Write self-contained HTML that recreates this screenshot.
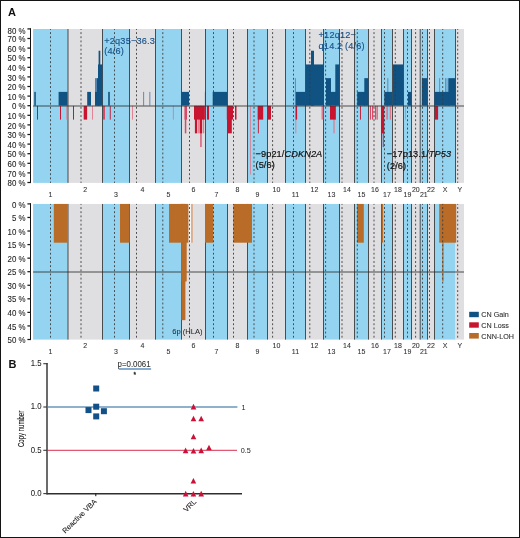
<!DOCTYPE html>
<html><head><meta charset="utf-8"><style>
html,body{margin:0;padding:0;background:#fff;}
#wrap{position:relative;width:520px;height:538px;overflow:hidden;background:#fff;box-sizing:border-box;border:1px solid #141414;}
svg{position:absolute;left:-1px;top:-1px;will-change:transform;}
text{font-family:"Liberation Sans",sans-serif;}
</style></head><body><div id="wrap">
<svg width="520" height="538" viewBox="0 0 520 538">
<rect x="33.10" y="29.00" width="34.90" height="153.90" fill="#94d4f0"/>
<rect x="68.00" y="29.00" width="34.50" height="153.90" fill="#dfdfe1"/>
<rect x="102.50" y="29.00" width="27.00" height="153.90" fill="#94d4f0"/>
<rect x="129.50" y="29.00" width="26.00" height="153.90" fill="#dfdfe1"/>
<rect x="155.50" y="29.00" width="26.00" height="153.90" fill="#94d4f0"/>
<rect x="181.50" y="29.00" width="24.00" height="153.90" fill="#dfdfe1"/>
<rect x="205.50" y="29.00" width="22.00" height="153.90" fill="#94d4f0"/>
<rect x="227.50" y="29.00" width="20.00" height="153.90" fill="#dfdfe1"/>
<rect x="247.50" y="29.00" width="20.00" height="153.90" fill="#94d4f0"/>
<rect x="267.50" y="29.00" width="18.00" height="153.90" fill="#dfdfe1"/>
<rect x="285.50" y="29.00" width="20.00" height="153.90" fill="#94d4f0"/>
<rect x="305.50" y="29.00" width="18.00" height="153.90" fill="#dfdfe1"/>
<rect x="323.50" y="29.00" width="16.00" height="153.90" fill="#94d4f0"/>
<rect x="339.50" y="29.00" width="15.00" height="153.90" fill="#dfdfe1"/>
<rect x="354.50" y="29.00" width="14.00" height="153.90" fill="#94d4f0"/>
<rect x="368.50" y="29.00" width="13.00" height="153.90" fill="#dfdfe1"/>
<rect x="381.50" y="29.00" width="11.00" height="153.90" fill="#94d4f0"/>
<rect x="392.50" y="29.00" width="11.00" height="153.90" fill="#dfdfe1"/>
<rect x="403.50" y="29.00" width="8.00" height="153.90" fill="#94d4f0"/>
<rect x="411.50" y="29.00" width="8.70" height="153.90" fill="#dfdfe1"/>
<rect x="420.20" y="29.00" width="7.30" height="153.90" fill="#94d4f0"/>
<rect x="427.50" y="29.00" width="7.00" height="153.90" fill="#dfdfe1"/>
<rect x="434.50" y="29.00" width="21.00" height="153.90" fill="#94d4f0"/>
<rect x="455.50" y="29.00" width="8.50" height="153.90" fill="#dfdfe1"/>
<text x="104.30" y="43.70" font-size="9.2" text-anchor="start" fill="#1a5288" stroke-width="0.14" letter-spacing="0.16" stroke="#1a5288">+2q35&#8722;36.3</text>
<text x="104.30" y="54.10" font-size="9.2" text-anchor="start" fill="#1a5288" stroke-width="0.14" letter-spacing="0.16" stroke="#1a5288">(4/6)</text>
<text x="318.60" y="38.40" font-size="9.2" text-anchor="start" fill="#1a5288" stroke-width="0.14" letter-spacing="0.16" stroke="#1a5288">+12q12&#8722;</text>
<text x="318.60" y="48.90" font-size="9.2" text-anchor="start" fill="#1a5288" stroke-width="0.14" letter-spacing="0.16" stroke="#1a5288">q14.2 (4/6)</text>
<line x1="68.00" y1="29.00" x2="68.00" y2="182.90" stroke="#333" stroke-width="0.85"/>
<line x1="102.50" y1="29.00" x2="102.50" y2="182.90" stroke="#333" stroke-width="0.85"/>
<line x1="129.50" y1="29.00" x2="129.50" y2="182.90" stroke="#333" stroke-width="0.85"/>
<line x1="155.50" y1="29.00" x2="155.50" y2="182.90" stroke="#333" stroke-width="0.85"/>
<line x1="181.50" y1="29.00" x2="181.50" y2="182.90" stroke="#333" stroke-width="0.85"/>
<line x1="205.50" y1="29.00" x2="205.50" y2="182.90" stroke="#333" stroke-width="0.85"/>
<line x1="227.50" y1="29.00" x2="227.50" y2="182.90" stroke="#333" stroke-width="0.85"/>
<line x1="247.50" y1="29.00" x2="247.50" y2="182.90" stroke="#333" stroke-width="0.85"/>
<line x1="267.50" y1="29.00" x2="267.50" y2="182.90" stroke="#333" stroke-width="0.85"/>
<line x1="285.50" y1="29.00" x2="285.50" y2="182.90" stroke="#333" stroke-width="0.85"/>
<line x1="305.50" y1="29.00" x2="305.50" y2="182.90" stroke="#333" stroke-width="0.85"/>
<line x1="323.50" y1="29.00" x2="323.50" y2="182.90" stroke="#333" stroke-width="0.85"/>
<line x1="339.50" y1="29.00" x2="339.50" y2="182.90" stroke="#333" stroke-width="0.85"/>
<line x1="354.50" y1="29.00" x2="354.50" y2="182.90" stroke="#333" stroke-width="0.85"/>
<line x1="368.50" y1="29.00" x2="368.50" y2="182.90" stroke="#333" stroke-width="0.85"/>
<line x1="381.50" y1="29.00" x2="381.50" y2="182.90" stroke="#333" stroke-width="0.85"/>
<line x1="392.50" y1="29.00" x2="392.50" y2="182.90" stroke="#333" stroke-width="0.85"/>
<line x1="403.50" y1="29.00" x2="403.50" y2="182.90" stroke="#333" stroke-width="0.85"/>
<line x1="411.50" y1="29.00" x2="411.50" y2="182.90" stroke="#333" stroke-width="0.85"/>
<line x1="420.20" y1="29.00" x2="420.20" y2="182.90" stroke="#333" stroke-width="0.85"/>
<line x1="427.50" y1="29.00" x2="427.50" y2="182.90" stroke="#333" stroke-width="0.85"/>
<line x1="434.50" y1="29.00" x2="434.50" y2="182.90" stroke="#333" stroke-width="0.85"/>
<line x1="455.50" y1="29.00" x2="455.50" y2="182.90" stroke="#333" stroke-width="0.85"/>
<rect x="95.00" y="78.16" width="1.90" height="27.44" fill="#4f83b3"/>
<rect x="143.20" y="91.88" width="0.90" height="13.72" fill="#4f83b3"/>
<rect x="149.40" y="91.88" width="0.90" height="13.72" fill="#4f83b3"/>
<rect x="294.90" y="78.16" width="0.90" height="27.44" fill="#4f83b3"/>
<rect x="387.40" y="78.16" width="0.90" height="27.44" fill="#4f83b3"/>
<rect x="439.30" y="78.16" width="0.80" height="27.44" fill="#4f83b3"/>
<rect x="445.00" y="78.16" width="0.80" height="27.44" fill="#4f83b3"/>
<rect x="446.60" y="78.16" width="0.80" height="27.44" fill="#4f83b3"/>
<rect x="34.30" y="91.88" width="1.50" height="13.72" fill="#105282"/>
<rect x="58.60" y="91.88" width="8.90" height="13.72" fill="#105282"/>
<rect x="87.20" y="91.88" width="3.80" height="13.72" fill="#105282"/>
<rect x="95.00" y="91.88" width="2.90" height="13.72" fill="#105282"/>
<rect x="96.90" y="78.16" width="2.10" height="27.44" fill="#105282"/>
<rect x="98.00" y="64.44" width="4.30" height="41.16" fill="#105282"/>
<rect x="98.60" y="50.72" width="1.70" height="54.88" fill="#105282"/>
<rect x="108.20" y="91.88" width="1.60" height="13.72" fill="#105282"/>
<rect x="181.30" y="91.88" width="7.70" height="13.72" fill="#105282"/>
<rect x="204.90" y="91.88" width="0.90" height="13.72" fill="#105282"/>
<rect x="212.70" y="91.88" width="14.30" height="13.72" fill="#105282"/>
<rect x="295.80" y="91.88" width="9.80" height="13.72" fill="#105282"/>
<rect x="305.80" y="64.44" width="18.00" height="41.16" fill="#105282"/>
<rect x="311.00" y="50.72" width="3.00" height="54.88" fill="#105282"/>
<rect x="326.00" y="78.16" width="5.00" height="27.44" fill="#105282"/>
<rect x="330.00" y="91.88" width="6.30" height="13.72" fill="#105282"/>
<rect x="335.30" y="64.44" width="4.20" height="41.16" fill="#105282"/>
<rect x="357.20" y="91.88" width="8.10" height="13.72" fill="#105282"/>
<rect x="364.30" y="78.16" width="4.10" height="27.44" fill="#105282"/>
<rect x="384.30" y="91.88" width="8.20" height="13.72" fill="#105282"/>
<rect x="393.00" y="64.44" width="10.20" height="41.16" fill="#105282"/>
<rect x="408.00" y="91.88" width="3.50" height="13.72" fill="#105282"/>
<rect x="421.90" y="78.16" width="5.20" height="27.44" fill="#105282"/>
<rect x="434.50" y="91.88" width="14.80" height="13.72" fill="#105282"/>
<rect x="448.30" y="78.16" width="7.30" height="27.44" fill="#105282"/>
<rect x="103.00" y="105.90" width="2.00" height="13.72" fill="#d84a68"/>
<rect x="184.50" y="105.90" width="2.50" height="13.72" fill="#d84a68"/>
<rect x="184.80" y="105.90" width="1.50" height="27.44" fill="#d84a68"/>
<rect x="200.30" y="105.90" width="1.30" height="41.16" fill="#d84a68"/>
<rect x="369.90" y="105.90" width="1.10" height="13.72" fill="#d84a68"/>
<rect x="372.00" y="105.90" width="1.20" height="13.72" fill="#d84a68"/>
<rect x="374.90" y="105.90" width="1.20" height="13.72" fill="#d84a68"/>
<rect x="376.60" y="105.90" width="1.10" height="13.72" fill="#d84a68"/>
<rect x="66.40" y="105.90" width="0.90" height="13.72" fill="#e07a8e"/>
<rect x="92.00" y="105.90" width="0.90" height="13.72" fill="#e07a8e"/>
<rect x="132.00" y="105.90" width="0.90" height="13.72" fill="#e07a8e"/>
<rect x="172.90" y="105.90" width="0.90" height="13.72" fill="#e07a8e"/>
<rect x="198.10" y="105.90" width="1.40" height="27.44" fill="#e07a8e"/>
<rect x="202.80" y="105.90" width="1.40" height="27.44" fill="#e07a8e"/>
<rect x="250.20" y="105.90" width="0.80" height="68.60" fill="#e07a8e"/>
<rect x="295.40" y="105.90" width="0.90" height="27.44" fill="#e07a8e"/>
<rect x="321.50" y="105.90" width="1.80" height="13.72" fill="#e07a8e"/>
<rect x="333.40" y="105.90" width="1.20" height="27.44" fill="#e07a8e"/>
<rect x="334.80" y="105.90" width="0.80" height="13.72" fill="#e07a8e"/>
<rect x="386.30" y="105.90" width="1.70" height="13.72" fill="#e07a8e"/>
<rect x="389.70" y="105.90" width="1.30" height="13.72" fill="#e07a8e"/>
<rect x="405.20" y="105.90" width="0.80" height="13.72" fill="#e07a8e"/>
<rect x="37.00" y="105.90" width="1.00" height="13.72" fill="#c8142f"/>
<rect x="60.00" y="105.90" width="1.00" height="13.72" fill="#c8142f"/>
<rect x="73.00" y="105.90" width="1.00" height="13.72" fill="#c8142f"/>
<rect x="83.70" y="105.90" width="3.40" height="13.72" fill="#c8142f"/>
<rect x="109.80" y="105.90" width="0.90" height="13.72" fill="#c8142f"/>
<rect x="155.00" y="105.90" width="1.00" height="13.72" fill="#c8142f"/>
<rect x="194.00" y="105.90" width="10.90" height="13.72" fill="#c8142f"/>
<rect x="194.90" y="105.90" width="2.30" height="27.44" fill="#c8142f"/>
<rect x="199.80" y="105.90" width="2.30" height="27.44" fill="#c8142f"/>
<rect x="207.00" y="105.90" width="2.00" height="13.72" fill="#c8142f"/>
<rect x="226.80" y="105.90" width="6.20" height="13.72" fill="#c8142f"/>
<rect x="227.30" y="105.90" width="4.50" height="27.44" fill="#c8142f"/>
<rect x="235.00" y="105.90" width="1.50" height="13.72" fill="#c8142f"/>
<rect x="257.70" y="105.90" width="5.50" height="13.72" fill="#c8142f"/>
<rect x="257.90" y="105.90" width="0.90" height="27.44" fill="#c8142f"/>
<rect x="267.30" y="105.90" width="3.70" height="13.72" fill="#c8142f"/>
<rect x="295.60" y="105.90" width="1.50" height="13.72" fill="#c8142f"/>
<rect x="330.00" y="105.90" width="5.80" height="13.72" fill="#c8142f"/>
<rect x="360.00" y="105.90" width="0.90" height="13.72" fill="#c8142f"/>
<rect x="381.50" y="105.90" width="2.70" height="27.44" fill="#c8142f"/>
<rect x="382.80" y="105.90" width="0.90" height="41.16" fill="#c8142f"/>
<rect x="411.00" y="105.90" width="0.90" height="13.72" fill="#c8142f"/>
<rect x="434.90" y="105.90" width="3.20" height="13.72" fill="#c8142f"/>
<line x1="50.50" y1="29.00" x2="50.50" y2="182.90" stroke="#3c3c3c" stroke-width="0.9" stroke-dasharray="1.9 2.25" stroke-dashoffset="1.0"/>
<line x1="81.00" y1="29.00" x2="81.00" y2="182.90" stroke="#3c3c3c" stroke-width="0.9" stroke-dasharray="1.9 2.25" stroke-dashoffset="1.0"/>
<line x1="114.50" y1="29.00" x2="114.50" y2="182.90" stroke="#3c3c3c" stroke-width="0.9" stroke-dasharray="1.9 2.25" stroke-dashoffset="1.0"/>
<line x1="136.50" y1="29.00" x2="136.50" y2="182.90" stroke="#3c3c3c" stroke-width="0.9" stroke-dasharray="1.9 2.25" stroke-dashoffset="1.0"/>
<line x1="162.80" y1="29.00" x2="162.80" y2="182.90" stroke="#3c3c3c" stroke-width="0.9" stroke-dasharray="1.9 2.25" stroke-dashoffset="1.0"/>
<line x1="189.50" y1="29.00" x2="189.50" y2="182.90" stroke="#3c3c3c" stroke-width="0.9" stroke-dasharray="1.9 2.25" stroke-dashoffset="1.0"/>
<line x1="213.50" y1="29.00" x2="213.50" y2="182.90" stroke="#3c3c3c" stroke-width="0.9" stroke-dasharray="1.9 2.25" stroke-dashoffset="1.0"/>
<line x1="233.50" y1="29.00" x2="233.50" y2="182.90" stroke="#3c3c3c" stroke-width="0.9" stroke-dasharray="1.9 2.25" stroke-dashoffset="1.0"/>
<line x1="254.00" y1="29.00" x2="254.00" y2="182.90" stroke="#3c3c3c" stroke-width="0.9" stroke-dasharray="1.9 2.25" stroke-dashoffset="1.0"/>
<line x1="272.60" y1="29.00" x2="272.60" y2="182.90" stroke="#3c3c3c" stroke-width="0.9" stroke-dasharray="1.9 2.25" stroke-dashoffset="1.0"/>
<line x1="293.50" y1="29.00" x2="293.50" y2="182.90" stroke="#3c3c3c" stroke-width="0.9" stroke-dasharray="1.9 2.25" stroke-dashoffset="1.0"/>
<line x1="309.80" y1="29.00" x2="309.80" y2="182.90" stroke="#3c3c3c" stroke-width="0.9" stroke-dasharray="1.9 2.25" stroke-dashoffset="1.0"/>
<line x1="325.60" y1="29.00" x2="325.60" y2="182.90" stroke="#3c3c3c" stroke-width="0.9" stroke-dasharray="1.9 2.25" stroke-dashoffset="1.0"/>
<line x1="342.00" y1="29.00" x2="342.00" y2="182.90" stroke="#3c3c3c" stroke-width="0.9" stroke-dasharray="1.9 2.25" stroke-dashoffset="1.0"/>
<line x1="357.30" y1="29.00" x2="357.30" y2="182.90" stroke="#3c3c3c" stroke-width="0.9" stroke-dasharray="1.9 2.25" stroke-dashoffset="1.0"/>
<line x1="374.00" y1="29.00" x2="374.00" y2="182.90" stroke="#3c3c3c" stroke-width="0.9" stroke-dasharray="1.9 2.25" stroke-dashoffset="1.0"/>
<line x1="384.50" y1="29.00" x2="384.50" y2="182.90" stroke="#3c3c3c" stroke-width="0.9" stroke-dasharray="1.9 2.25" stroke-dashoffset="1.0"/>
<line x1="395.30" y1="29.00" x2="395.30" y2="182.90" stroke="#3c3c3c" stroke-width="0.9" stroke-dasharray="1.9 2.25" stroke-dashoffset="1.0"/>
<line x1="407.50" y1="29.00" x2="407.50" y2="182.90" stroke="#3c3c3c" stroke-width="0.9" stroke-dasharray="1.9 2.25" stroke-dashoffset="1.0"/>
<line x1="415.60" y1="29.00" x2="415.60" y2="182.90" stroke="#3c3c3c" stroke-width="0.9" stroke-dasharray="1.9 2.25" stroke-dashoffset="1.0"/>
<line x1="422.50" y1="29.00" x2="422.50" y2="182.90" stroke="#3c3c3c" stroke-width="0.9" stroke-dasharray="1.9 2.25" stroke-dashoffset="1.0"/>
<line x1="429.50" y1="29.00" x2="429.50" y2="182.90" stroke="#3c3c3c" stroke-width="0.9" stroke-dasharray="1.9 2.25" stroke-dashoffset="1.0"/>
<line x1="442.70" y1="29.00" x2="442.70" y2="182.90" stroke="#3c3c3c" stroke-width="0.9" stroke-dasharray="1.9 2.25" stroke-dashoffset="1.0"/>
<line x1="457.70" y1="29.00" x2="457.70" y2="182.90" stroke="#3c3c3c" stroke-width="0.9" stroke-dasharray="1.9 2.25" stroke-dashoffset="1.0"/>
<text x="255.50" y="157.40" font-size="9.2" text-anchor="start" fill="#111" stroke-width="0.2" letter-spacing="0.1" stroke="#111">&#8722;9p21/<tspan font-style="italic">CDKN2A</tspan></text>
<text x="255.50" y="167.80" font-size="9.2" text-anchor="start" fill="#111" stroke-width="0.2" letter-spacing="0.1" stroke="#111">(5/6)</text>
<text x="386.80" y="157.20" font-size="9.2" text-anchor="start" fill="#111" stroke-width="0.2" letter-spacing="0.1" stroke="#111">&#8722;17p13.1/<tspan font-style="italic">TP53</tspan></text>
<text x="386.80" y="168.60" font-size="9.2" text-anchor="start" fill="#111" stroke-width="0.2" letter-spacing="0.1" stroke="#111">(2/6)</text>
<line x1="33.10" y1="106.00" x2="464.00" y2="106.00" stroke="#333" stroke-width="1.1" stroke-opacity="0.85"/>
<line x1="30.50" y1="28.40" x2="30.50" y2="183.00" stroke="#111" stroke-width="1"/>
<line x1="27.40" y1="28.90" x2="31.00" y2="28.90" stroke="#1a1a1a" stroke-width="1.25"/>
<text x="0" y="0" font-size="7.9" text-anchor="end" fill="#222" transform="translate(25.60 33.50) scale(1.0 1.1)" stroke="#222" stroke-width="0.08">80 %</text>
<line x1="27.40" y1="38.50" x2="31.00" y2="38.50" stroke="#1a1a1a" stroke-width="1.25"/>
<text x="0" y="0" font-size="7.9" text-anchor="end" fill="#222" transform="translate(25.60 42.10) scale(1.0 1.1)" stroke="#222" stroke-width="0.08">70 %</text>
<line x1="27.40" y1="48.10" x2="31.00" y2="48.10" stroke="#1a1a1a" stroke-width="1.25"/>
<text x="0" y="0" font-size="7.9" text-anchor="end" fill="#222" transform="translate(25.60 51.70) scale(1.0 1.1)" stroke="#222" stroke-width="0.08">60 %</text>
<line x1="27.40" y1="57.70" x2="31.00" y2="57.70" stroke="#1a1a1a" stroke-width="1.25"/>
<text x="0" y="0" font-size="7.9" text-anchor="end" fill="#222" transform="translate(25.60 61.30) scale(1.0 1.1)" stroke="#222" stroke-width="0.08">50 %</text>
<line x1="27.40" y1="67.30" x2="31.00" y2="67.30" stroke="#1a1a1a" stroke-width="1.25"/>
<text x="0" y="0" font-size="7.9" text-anchor="end" fill="#222" transform="translate(25.60 70.90) scale(1.0 1.1)" stroke="#222" stroke-width="0.08">40 %</text>
<line x1="27.40" y1="76.90" x2="31.00" y2="76.90" stroke="#1a1a1a" stroke-width="1.25"/>
<text x="0" y="0" font-size="7.9" text-anchor="end" fill="#222" transform="translate(25.60 80.50) scale(1.0 1.1)" stroke="#222" stroke-width="0.08">30 %</text>
<line x1="27.40" y1="86.50" x2="31.00" y2="86.50" stroke="#1a1a1a" stroke-width="1.25"/>
<text x="0" y="0" font-size="7.9" text-anchor="end" fill="#222" transform="translate(25.60 90.10) scale(1.0 1.1)" stroke="#222" stroke-width="0.08">20 %</text>
<line x1="27.40" y1="96.10" x2="31.00" y2="96.10" stroke="#1a1a1a" stroke-width="1.25"/>
<text x="0" y="0" font-size="7.9" text-anchor="end" fill="#222" transform="translate(25.60 99.70) scale(1.0 1.1)" stroke="#222" stroke-width="0.08">10 %</text>
<line x1="27.40" y1="105.70" x2="31.00" y2="105.70" stroke="#1a1a1a" stroke-width="1.25"/>
<text x="0" y="0" font-size="7.9" text-anchor="end" fill="#222" transform="translate(25.60 109.30) scale(1.0 1.1)" stroke="#222" stroke-width="0.08">0 %</text>
<line x1="27.40" y1="115.30" x2="31.00" y2="115.30" stroke="#1a1a1a" stroke-width="1.25"/>
<text x="0" y="0" font-size="7.9" text-anchor="end" fill="#222" transform="translate(25.60 118.90) scale(1.0 1.1)" stroke="#222" stroke-width="0.08">10 %</text>
<line x1="27.40" y1="124.90" x2="31.00" y2="124.90" stroke="#1a1a1a" stroke-width="1.25"/>
<text x="0" y="0" font-size="7.9" text-anchor="end" fill="#222" transform="translate(25.60 128.50) scale(1.0 1.1)" stroke="#222" stroke-width="0.08">20 %</text>
<line x1="27.40" y1="134.50" x2="31.00" y2="134.50" stroke="#1a1a1a" stroke-width="1.25"/>
<text x="0" y="0" font-size="7.9" text-anchor="end" fill="#222" transform="translate(25.60 138.10) scale(1.0 1.1)" stroke="#222" stroke-width="0.08">30 %</text>
<line x1="27.40" y1="144.10" x2="31.00" y2="144.10" stroke="#1a1a1a" stroke-width="1.25"/>
<text x="0" y="0" font-size="7.9" text-anchor="end" fill="#222" transform="translate(25.60 147.70) scale(1.0 1.1)" stroke="#222" stroke-width="0.08">40 %</text>
<line x1="27.40" y1="153.70" x2="31.00" y2="153.70" stroke="#1a1a1a" stroke-width="1.25"/>
<text x="0" y="0" font-size="7.9" text-anchor="end" fill="#222" transform="translate(25.60 157.30) scale(1.0 1.1)" stroke="#222" stroke-width="0.08">50 %</text>
<line x1="27.40" y1="163.30" x2="31.00" y2="163.30" stroke="#1a1a1a" stroke-width="1.25"/>
<text x="0" y="0" font-size="7.9" text-anchor="end" fill="#222" transform="translate(25.60 166.90) scale(1.0 1.1)" stroke="#222" stroke-width="0.08">60 %</text>
<line x1="27.40" y1="172.90" x2="31.00" y2="172.90" stroke="#1a1a1a" stroke-width="1.25"/>
<text x="0" y="0" font-size="7.9" text-anchor="end" fill="#222" transform="translate(25.60 176.50) scale(1.0 1.1)" stroke="#222" stroke-width="0.08">70 %</text>
<line x1="27.40" y1="182.50" x2="31.00" y2="182.50" stroke="#1a1a1a" stroke-width="1.25"/>
<text x="0" y="0" font-size="7.9" text-anchor="end" fill="#222" transform="translate(25.60 186.10) scale(1.0 1.1)" stroke="#222" stroke-width="0.08">80 %</text>
<text x="0" y="0" font-size="7" text-anchor="middle" fill="#333" transform="translate(50.55 197.20) scale(1.0 1.05)" stroke="#333" stroke-width="0.08">1</text>
<text x="0" y="0" font-size="7" text-anchor="middle" fill="#333" transform="translate(85.25 191.80) scale(1.0 1.05)" stroke="#333" stroke-width="0.08">2</text>
<text x="0" y="0" font-size="7" text-anchor="middle" fill="#333" transform="translate(116.00 197.20) scale(1.0 1.05)" stroke="#333" stroke-width="0.08">3</text>
<text x="0" y="0" font-size="7" text-anchor="middle" fill="#333" transform="translate(142.50 191.80) scale(1.0 1.05)" stroke="#333" stroke-width="0.08">4</text>
<text x="0" y="0" font-size="7" text-anchor="middle" fill="#333" transform="translate(168.50 197.20) scale(1.0 1.05)" stroke="#333" stroke-width="0.08">5</text>
<text x="0" y="0" font-size="7" text-anchor="middle" fill="#333" transform="translate(193.50 191.80) scale(1.0 1.05)" stroke="#333" stroke-width="0.08">6</text>
<text x="0" y="0" font-size="7" text-anchor="middle" fill="#333" transform="translate(216.50 197.20) scale(1.0 1.05)" stroke="#333" stroke-width="0.08">7</text>
<text x="0" y="0" font-size="7" text-anchor="middle" fill="#333" transform="translate(237.50 191.80) scale(1.0 1.05)" stroke="#333" stroke-width="0.08">8</text>
<text x="0" y="0" font-size="7" text-anchor="middle" fill="#333" transform="translate(257.50 197.20) scale(1.0 1.05)" stroke="#333" stroke-width="0.08">9</text>
<text x="0" y="0" font-size="7" text-anchor="middle" fill="#333" transform="translate(276.50 191.80) scale(1.0 1.05)" stroke="#333" stroke-width="0.08">10</text>
<text x="0" y="0" font-size="7" text-anchor="middle" fill="#333" transform="translate(295.50 197.20) scale(1.0 1.05)" stroke="#333" stroke-width="0.08">11</text>
<text x="0" y="0" font-size="7" text-anchor="middle" fill="#333" transform="translate(314.50 191.80) scale(1.0 1.05)" stroke="#333" stroke-width="0.08">12</text>
<text x="0" y="0" font-size="7" text-anchor="middle" fill="#333" transform="translate(331.50 197.20) scale(1.0 1.05)" stroke="#333" stroke-width="0.08">13</text>
<text x="0" y="0" font-size="7" text-anchor="middle" fill="#333" transform="translate(347.00 191.80) scale(1.0 1.05)" stroke="#333" stroke-width="0.08">14</text>
<text x="0" y="0" font-size="7" text-anchor="middle" fill="#333" transform="translate(361.50 197.20) scale(1.0 1.05)" stroke="#333" stroke-width="0.08">15</text>
<text x="0" y="0" font-size="7" text-anchor="middle" fill="#333" transform="translate(375.00 191.80) scale(1.0 1.05)" stroke="#333" stroke-width="0.08">16</text>
<text x="0" y="0" font-size="7" text-anchor="middle" fill="#333" transform="translate(387.00 197.20) scale(1.0 1.05)" stroke="#333" stroke-width="0.08">17</text>
<text x="0" y="0" font-size="7" text-anchor="middle" fill="#333" transform="translate(398.00 191.80) scale(1.0 1.05)" stroke="#333" stroke-width="0.08">18</text>
<text x="0" y="0" font-size="7" text-anchor="middle" fill="#333" transform="translate(407.50 197.20) scale(1.0 1.05)" stroke="#333" stroke-width="0.08">19</text>
<text x="0" y="0" font-size="7" text-anchor="middle" fill="#333" transform="translate(415.85 191.80) scale(1.0 1.05)" stroke="#333" stroke-width="0.08">20</text>
<text x="0" y="0" font-size="7" text-anchor="middle" fill="#333" transform="translate(423.85 197.20) scale(1.0 1.05)" stroke="#333" stroke-width="0.08">21</text>
<text x="0" y="0" font-size="7" text-anchor="middle" fill="#333" transform="translate(431.00 191.80) scale(1.0 1.05)" stroke="#333" stroke-width="0.08">22</text>
<text x="0" y="0" font-size="7" text-anchor="middle" fill="#333" transform="translate(445.00 191.80) scale(1.0 1.05)" stroke="#333" stroke-width="0.08">X</text>
<text x="0" y="0" font-size="7" text-anchor="middle" fill="#333" transform="translate(459.75 191.80) scale(1.0 1.05)" stroke="#333" stroke-width="0.08">Y</text>
<rect x="33.10" y="203.95" width="34.90" height="135.65" fill="#94d4f0"/>
<rect x="68.00" y="203.95" width="34.50" height="135.65" fill="#dfdfe1"/>
<rect x="102.50" y="203.95" width="27.00" height="135.65" fill="#94d4f0"/>
<rect x="129.50" y="203.95" width="26.00" height="135.65" fill="#dfdfe1"/>
<rect x="155.50" y="203.95" width="26.00" height="135.65" fill="#94d4f0"/>
<rect x="181.50" y="203.95" width="24.00" height="135.65" fill="#dfdfe1"/>
<rect x="205.50" y="203.95" width="22.00" height="135.65" fill="#94d4f0"/>
<rect x="227.50" y="203.95" width="20.00" height="135.65" fill="#dfdfe1"/>
<rect x="247.50" y="203.95" width="20.00" height="135.65" fill="#94d4f0"/>
<rect x="267.50" y="203.95" width="18.00" height="135.65" fill="#dfdfe1"/>
<rect x="285.50" y="203.95" width="20.00" height="135.65" fill="#94d4f0"/>
<rect x="305.50" y="203.95" width="18.00" height="135.65" fill="#dfdfe1"/>
<rect x="323.50" y="203.95" width="16.00" height="135.65" fill="#94d4f0"/>
<rect x="339.50" y="203.95" width="15.00" height="135.65" fill="#dfdfe1"/>
<rect x="354.50" y="203.95" width="14.00" height="135.65" fill="#94d4f0"/>
<rect x="368.50" y="203.95" width="13.00" height="135.65" fill="#dfdfe1"/>
<rect x="381.50" y="203.95" width="11.00" height="135.65" fill="#94d4f0"/>
<rect x="392.50" y="203.95" width="11.00" height="135.65" fill="#dfdfe1"/>
<rect x="403.50" y="203.95" width="8.00" height="135.65" fill="#94d4f0"/>
<rect x="411.50" y="203.95" width="8.70" height="135.65" fill="#dfdfe1"/>
<rect x="420.20" y="203.95" width="7.30" height="135.65" fill="#94d4f0"/>
<rect x="427.50" y="203.95" width="7.00" height="135.65" fill="#dfdfe1"/>
<rect x="434.50" y="203.95" width="21.00" height="135.65" fill="#94d4f0"/>
<rect x="455.50" y="203.95" width="8.50" height="135.65" fill="#dfdfe1"/>
<line x1="68.00" y1="203.95" x2="68.00" y2="339.60" stroke="#333" stroke-width="0.85"/>
<line x1="102.50" y1="203.95" x2="102.50" y2="339.60" stroke="#333" stroke-width="0.85"/>
<line x1="129.50" y1="203.95" x2="129.50" y2="339.60" stroke="#333" stroke-width="0.85"/>
<line x1="155.50" y1="203.95" x2="155.50" y2="339.60" stroke="#333" stroke-width="0.85"/>
<line x1="181.50" y1="203.95" x2="181.50" y2="339.60" stroke="#333" stroke-width="0.85"/>
<line x1="205.50" y1="203.95" x2="205.50" y2="339.60" stroke="#333" stroke-width="0.85"/>
<line x1="227.50" y1="203.95" x2="227.50" y2="339.60" stroke="#333" stroke-width="0.85"/>
<line x1="247.50" y1="203.95" x2="247.50" y2="339.60" stroke="#333" stroke-width="0.85"/>
<line x1="267.50" y1="203.95" x2="267.50" y2="339.60" stroke="#333" stroke-width="0.85"/>
<line x1="285.50" y1="203.95" x2="285.50" y2="339.60" stroke="#333" stroke-width="0.85"/>
<line x1="305.50" y1="203.95" x2="305.50" y2="339.60" stroke="#333" stroke-width="0.85"/>
<line x1="323.50" y1="203.95" x2="323.50" y2="339.60" stroke="#333" stroke-width="0.85"/>
<line x1="339.50" y1="203.95" x2="339.50" y2="339.60" stroke="#333" stroke-width="0.85"/>
<line x1="354.50" y1="203.95" x2="354.50" y2="339.60" stroke="#333" stroke-width="0.85"/>
<line x1="368.50" y1="203.95" x2="368.50" y2="339.60" stroke="#333" stroke-width="0.85"/>
<line x1="381.50" y1="203.95" x2="381.50" y2="339.60" stroke="#333" stroke-width="0.85"/>
<line x1="392.50" y1="203.95" x2="392.50" y2="339.60" stroke="#333" stroke-width="0.85"/>
<line x1="403.50" y1="203.95" x2="403.50" y2="339.60" stroke="#333" stroke-width="0.85"/>
<line x1="411.50" y1="203.95" x2="411.50" y2="339.60" stroke="#333" stroke-width="0.85"/>
<line x1="420.20" y1="203.95" x2="420.20" y2="339.60" stroke="#333" stroke-width="0.85"/>
<line x1="427.50" y1="203.95" x2="427.50" y2="339.60" stroke="#333" stroke-width="0.85"/>
<line x1="434.50" y1="203.95" x2="434.50" y2="339.60" stroke="#333" stroke-width="0.85"/>
<line x1="33.10" y1="272.00" x2="464.00" y2="272.00" stroke="#2a2a2a" stroke-width="1.15" stroke-opacity="0.82"/>
<rect x="188.40" y="203.95" width="2.80" height="38.74" fill="#f4f4f4"/>
<rect x="53.80" y="203.95" width="13.70" height="38.74" fill="#b86c28"/>
<rect x="120.00" y="203.95" width="9.60" height="38.74" fill="#b86c28"/>
<rect x="169.00" y="203.95" width="19.40" height="38.74" fill="#b86c28"/>
<rect x="191.20" y="203.95" width="1.50" height="38.74" fill="#d9a27a"/>
<rect x="181.30" y="203.95" width="4.10" height="116.22" fill="#b86c28"/>
<rect x="181.30" y="203.95" width="5.40" height="77.48" fill="#b86c28"/>
<rect x="205.00" y="203.95" width="8.20" height="38.74" fill="#b86c28"/>
<rect x="233.30" y="203.95" width="18.70" height="38.74" fill="#b86c28"/>
<rect x="357.00" y="203.95" width="6.80" height="38.74" fill="#b86c28"/>
<rect x="381.60" y="203.95" width="1.50" height="38.74" fill="#b86c28"/>
<rect x="439.20" y="203.95" width="17.00" height="38.74" fill="#b86c28"/>
<rect x="442.30" y="203.95" width="1.20" height="77.48" fill="#b86c28"/>
<line x1="50.50" y1="203.95" x2="50.50" y2="339.60" stroke="#3c3c3c" stroke-width="0.9" stroke-dasharray="1.9 2.25" stroke-dashoffset="1.0"/>
<line x1="81.00" y1="203.95" x2="81.00" y2="339.60" stroke="#3c3c3c" stroke-width="0.9" stroke-dasharray="1.9 2.25" stroke-dashoffset="1.0"/>
<line x1="114.50" y1="203.95" x2="114.50" y2="339.60" stroke="#3c3c3c" stroke-width="0.9" stroke-dasharray="1.9 2.25" stroke-dashoffset="1.0"/>
<line x1="136.50" y1="203.95" x2="136.50" y2="339.60" stroke="#3c3c3c" stroke-width="0.9" stroke-dasharray="1.9 2.25" stroke-dashoffset="1.0"/>
<line x1="162.80" y1="203.95" x2="162.80" y2="339.60" stroke="#3c3c3c" stroke-width="0.9" stroke-dasharray="1.9 2.25" stroke-dashoffset="1.0"/>
<line x1="189.50" y1="203.95" x2="189.50" y2="339.60" stroke="#3c3c3c" stroke-width="0.9" stroke-dasharray="1.9 2.25" stroke-dashoffset="1.0"/>
<line x1="213.50" y1="203.95" x2="213.50" y2="339.60" stroke="#3c3c3c" stroke-width="0.9" stroke-dasharray="1.9 2.25" stroke-dashoffset="1.0"/>
<line x1="233.50" y1="203.95" x2="233.50" y2="339.60" stroke="#3c3c3c" stroke-width="0.9" stroke-dasharray="1.9 2.25" stroke-dashoffset="1.0"/>
<line x1="254.00" y1="203.95" x2="254.00" y2="339.60" stroke="#3c3c3c" stroke-width="0.9" stroke-dasharray="1.9 2.25" stroke-dashoffset="1.0"/>
<line x1="272.60" y1="203.95" x2="272.60" y2="339.60" stroke="#3c3c3c" stroke-width="0.9" stroke-dasharray="1.9 2.25" stroke-dashoffset="1.0"/>
<line x1="293.50" y1="203.95" x2="293.50" y2="339.60" stroke="#3c3c3c" stroke-width="0.9" stroke-dasharray="1.9 2.25" stroke-dashoffset="1.0"/>
<line x1="309.80" y1="203.95" x2="309.80" y2="339.60" stroke="#3c3c3c" stroke-width="0.9" stroke-dasharray="1.9 2.25" stroke-dashoffset="1.0"/>
<line x1="325.60" y1="203.95" x2="325.60" y2="339.60" stroke="#3c3c3c" stroke-width="0.9" stroke-dasharray="1.9 2.25" stroke-dashoffset="1.0"/>
<line x1="342.00" y1="203.95" x2="342.00" y2="339.60" stroke="#3c3c3c" stroke-width="0.9" stroke-dasharray="1.9 2.25" stroke-dashoffset="1.0"/>
<line x1="357.30" y1="203.95" x2="357.30" y2="339.60" stroke="#3c3c3c" stroke-width="0.9" stroke-dasharray="1.9 2.25" stroke-dashoffset="1.0"/>
<line x1="374.00" y1="203.95" x2="374.00" y2="339.60" stroke="#3c3c3c" stroke-width="0.9" stroke-dasharray="1.9 2.25" stroke-dashoffset="1.0"/>
<line x1="384.50" y1="203.95" x2="384.50" y2="339.60" stroke="#3c3c3c" stroke-width="0.9" stroke-dasharray="1.9 2.25" stroke-dashoffset="1.0"/>
<line x1="395.30" y1="203.95" x2="395.30" y2="339.60" stroke="#3c3c3c" stroke-width="0.9" stroke-dasharray="1.9 2.25" stroke-dashoffset="1.0"/>
<line x1="407.50" y1="203.95" x2="407.50" y2="339.60" stroke="#3c3c3c" stroke-width="0.9" stroke-dasharray="1.9 2.25" stroke-dashoffset="1.0"/>
<line x1="415.60" y1="203.95" x2="415.60" y2="339.60" stroke="#3c3c3c" stroke-width="0.9" stroke-dasharray="1.9 2.25" stroke-dashoffset="1.0"/>
<line x1="422.50" y1="203.95" x2="422.50" y2="339.60" stroke="#3c3c3c" stroke-width="0.9" stroke-dasharray="1.9 2.25" stroke-dashoffset="1.0"/>
<line x1="429.50" y1="203.95" x2="429.50" y2="339.60" stroke="#3c3c3c" stroke-width="0.9" stroke-dasharray="1.9 2.25" stroke-dashoffset="1.0"/>
<line x1="442.70" y1="203.95" x2="442.70" y2="339.60" stroke="#3c3c3c" stroke-width="0.9" stroke-dasharray="1.9 2.25" stroke-dashoffset="1.0"/>
<line x1="457.70" y1="203.95" x2="457.70" y2="339.60" stroke="#3c3c3c" stroke-width="0.9" stroke-dasharray="1.9 2.25" stroke-dashoffset="1.0"/>
<line x1="30.50" y1="203.40" x2="30.50" y2="340.00" stroke="#111" stroke-width="1"/>
<line x1="27.40" y1="203.90" x2="31.00" y2="203.90" stroke="#1a1a1a" stroke-width="1.25"/>
<text x="0" y="0" font-size="7.9" text-anchor="end" fill="#222" transform="translate(25.60 207.50) scale(1.0 1.1)" stroke="#222" stroke-width="0.08">0 %</text>
<line x1="27.40" y1="217.46" x2="31.00" y2="217.46" stroke="#1a1a1a" stroke-width="1.25"/>
<text x="0" y="0" font-size="7.9" text-anchor="end" fill="#222" transform="translate(25.60 221.06) scale(1.0 1.1)" stroke="#222" stroke-width="0.08">5 %</text>
<line x1="27.40" y1="231.02" x2="31.00" y2="231.02" stroke="#1a1a1a" stroke-width="1.25"/>
<text x="0" y="0" font-size="7.9" text-anchor="end" fill="#222" transform="translate(25.60 234.62) scale(1.0 1.1)" stroke="#222" stroke-width="0.08">10 %</text>
<line x1="27.40" y1="244.58" x2="31.00" y2="244.58" stroke="#1a1a1a" stroke-width="1.25"/>
<text x="0" y="0" font-size="7.9" text-anchor="end" fill="#222" transform="translate(25.60 248.18) scale(1.0 1.1)" stroke="#222" stroke-width="0.08">15 %</text>
<line x1="27.40" y1="258.14" x2="31.00" y2="258.14" stroke="#1a1a1a" stroke-width="1.25"/>
<text x="0" y="0" font-size="7.9" text-anchor="end" fill="#222" transform="translate(25.60 261.74) scale(1.0 1.1)" stroke="#222" stroke-width="0.08">20 %</text>
<line x1="27.40" y1="271.70" x2="31.00" y2="271.70" stroke="#1a1a1a" stroke-width="1.25"/>
<text x="0" y="0" font-size="7.9" text-anchor="end" fill="#222" transform="translate(25.60 275.30) scale(1.0 1.1)" stroke="#222" stroke-width="0.08">25 %</text>
<line x1="27.40" y1="285.26" x2="31.00" y2="285.26" stroke="#1a1a1a" stroke-width="1.25"/>
<text x="0" y="0" font-size="7.9" text-anchor="end" fill="#222" transform="translate(25.60 288.86) scale(1.0 1.1)" stroke="#222" stroke-width="0.08">30 %</text>
<line x1="27.40" y1="298.82" x2="31.00" y2="298.82" stroke="#1a1a1a" stroke-width="1.25"/>
<text x="0" y="0" font-size="7.9" text-anchor="end" fill="#222" transform="translate(25.60 302.42) scale(1.0 1.1)" stroke="#222" stroke-width="0.08">35 %</text>
<line x1="27.40" y1="312.38" x2="31.00" y2="312.38" stroke="#1a1a1a" stroke-width="1.25"/>
<text x="0" y="0" font-size="7.9" text-anchor="end" fill="#222" transform="translate(25.60 315.98) scale(1.0 1.1)" stroke="#222" stroke-width="0.08">40 %</text>
<line x1="27.40" y1="325.94" x2="31.00" y2="325.94" stroke="#1a1a1a" stroke-width="1.25"/>
<text x="0" y="0" font-size="7.9" text-anchor="end" fill="#222" transform="translate(25.60 329.54) scale(1.0 1.1)" stroke="#222" stroke-width="0.08">45 %</text>
<line x1="27.40" y1="339.50" x2="31.00" y2="339.50" stroke="#1a1a1a" stroke-width="1.25"/>
<text x="0" y="0" font-size="7.9" text-anchor="end" fill="#222" transform="translate(25.60 343.10) scale(1.0 1.1)" stroke="#222" stroke-width="0.08">50 %</text>
<text x="0" y="0" font-size="7" text-anchor="middle" fill="#333" transform="translate(50.55 353.50) scale(1.0 1.05)" stroke="#333" stroke-width="0.08">1</text>
<text x="0" y="0" font-size="7" text-anchor="middle" fill="#333" transform="translate(85.25 348.20) scale(1.0 1.05)" stroke="#333" stroke-width="0.08">2</text>
<text x="0" y="0" font-size="7" text-anchor="middle" fill="#333" transform="translate(116.00 353.50) scale(1.0 1.05)" stroke="#333" stroke-width="0.08">3</text>
<text x="0" y="0" font-size="7" text-anchor="middle" fill="#333" transform="translate(142.50 348.20) scale(1.0 1.05)" stroke="#333" stroke-width="0.08">4</text>
<text x="0" y="0" font-size="7" text-anchor="middle" fill="#333" transform="translate(168.50 353.50) scale(1.0 1.05)" stroke="#333" stroke-width="0.08">5</text>
<text x="0" y="0" font-size="7" text-anchor="middle" fill="#333" transform="translate(193.50 348.20) scale(1.0 1.05)" stroke="#333" stroke-width="0.08">6</text>
<text x="0" y="0" font-size="7" text-anchor="middle" fill="#333" transform="translate(216.50 353.50) scale(1.0 1.05)" stroke="#333" stroke-width="0.08">7</text>
<text x="0" y="0" font-size="7" text-anchor="middle" fill="#333" transform="translate(237.50 348.20) scale(1.0 1.05)" stroke="#333" stroke-width="0.08">8</text>
<text x="0" y="0" font-size="7" text-anchor="middle" fill="#333" transform="translate(257.50 353.50) scale(1.0 1.05)" stroke="#333" stroke-width="0.08">9</text>
<text x="0" y="0" font-size="7" text-anchor="middle" fill="#333" transform="translate(276.50 348.20) scale(1.0 1.05)" stroke="#333" stroke-width="0.08">10</text>
<text x="0" y="0" font-size="7" text-anchor="middle" fill="#333" transform="translate(295.50 353.50) scale(1.0 1.05)" stroke="#333" stroke-width="0.08">11</text>
<text x="0" y="0" font-size="7" text-anchor="middle" fill="#333" transform="translate(314.50 348.20) scale(1.0 1.05)" stroke="#333" stroke-width="0.08">12</text>
<text x="0" y="0" font-size="7" text-anchor="middle" fill="#333" transform="translate(331.50 353.50) scale(1.0 1.05)" stroke="#333" stroke-width="0.08">13</text>
<text x="0" y="0" font-size="7" text-anchor="middle" fill="#333" transform="translate(347.00 348.20) scale(1.0 1.05)" stroke="#333" stroke-width="0.08">14</text>
<text x="0" y="0" font-size="7" text-anchor="middle" fill="#333" transform="translate(361.50 353.50) scale(1.0 1.05)" stroke="#333" stroke-width="0.08">15</text>
<text x="0" y="0" font-size="7" text-anchor="middle" fill="#333" transform="translate(375.00 348.20) scale(1.0 1.05)" stroke="#333" stroke-width="0.08">16</text>
<text x="0" y="0" font-size="7" text-anchor="middle" fill="#333" transform="translate(387.00 353.50) scale(1.0 1.05)" stroke="#333" stroke-width="0.08">17</text>
<text x="0" y="0" font-size="7" text-anchor="middle" fill="#333" transform="translate(398.00 348.20) scale(1.0 1.05)" stroke="#333" stroke-width="0.08">18</text>
<text x="0" y="0" font-size="7" text-anchor="middle" fill="#333" transform="translate(407.50 353.50) scale(1.0 1.05)" stroke="#333" stroke-width="0.08">19</text>
<text x="0" y="0" font-size="7" text-anchor="middle" fill="#333" transform="translate(415.85 348.20) scale(1.0 1.05)" stroke="#333" stroke-width="0.08">20</text>
<text x="0" y="0" font-size="7" text-anchor="middle" fill="#333" transform="translate(423.85 353.50) scale(1.0 1.05)" stroke="#333" stroke-width="0.08">21</text>
<text x="0" y="0" font-size="7" text-anchor="middle" fill="#333" transform="translate(431.00 348.20) scale(1.0 1.05)" stroke="#333" stroke-width="0.08">22</text>
<text x="0" y="0" font-size="7" text-anchor="middle" fill="#333" transform="translate(445.00 348.20) scale(1.0 1.05)" stroke="#333" stroke-width="0.08">X</text>
<text x="0" y="0" font-size="7" text-anchor="middle" fill="#333" transform="translate(459.75 348.20) scale(1.0 1.05)" stroke="#333" stroke-width="0.08">Y</text>
<text x="172.20" y="333.70" font-size="7.6" text-anchor="start" fill="#222">6p (HLA)</text>
<rect x="469.20" y="311.80" width="9.60" height="5.40" fill="#105282"/>
<rect x="469.20" y="322.30" width="9.60" height="5.40" fill="#c8142f"/>
<rect x="469.20" y="333.00" width="9.60" height="5.60" fill="#b86c28"/>
<text x="0" y="0" font-size="7.2" text-anchor="start" fill="#333" transform="translate(481.30 317.40) scale(1.0 1.1)" stroke="#333" stroke-width="0.1">CN Gain</text>
<text x="0" y="0" font-size="7.2" text-anchor="start" fill="#333" transform="translate(481.30 327.90) scale(1.0 1.1)" stroke="#333" stroke-width="0.1">CN Loss</text>
<text x="0" y="0" font-size="7.2" text-anchor="start" fill="#333" transform="translate(481.30 338.60) scale(1.0 1.1)" stroke="#333" stroke-width="0.1">CNN-LOH</text>
<text x="8.00" y="16.00" font-size="11" text-anchor="start" fill="#111" font-weight="bold">A</text>
<text x="8.40" y="367.80" font-size="11" text-anchor="start" fill="#111" font-weight="bold">B</text>
<line x1="47.00" y1="363.10" x2="47.00" y2="494.20" stroke="#3a3a3a" stroke-width="1.5"/>
<line x1="46.30" y1="493.70" x2="242.00" y2="493.70" stroke="#2e2e2e" stroke-width="1.45"/>
<line x1="43.30" y1="493.60" x2="47.50" y2="493.60" stroke="#3a3a3a" stroke-width="1.1"/>
<text x="0" y="0" font-size="7.8" text-anchor="end" fill="#222" transform="translate(41.60 496.00) scale(1.0 1.08)" stroke="#222" stroke-width="0.05">0.0</text>
<line x1="43.30" y1="450.30" x2="47.50" y2="450.30" stroke="#3a3a3a" stroke-width="1.1"/>
<text x="0" y="0" font-size="7.8" text-anchor="end" fill="#222" transform="translate(41.60 452.70) scale(1.0 1.08)" stroke="#222" stroke-width="0.05">0.5</text>
<line x1="43.30" y1="407.00" x2="47.50" y2="407.00" stroke="#3a3a3a" stroke-width="1.1"/>
<text x="0" y="0" font-size="7.8" text-anchor="end" fill="#222" transform="translate(41.60 409.40) scale(1.0 1.08)" stroke="#222" stroke-width="0.05">1.0</text>
<line x1="43.30" y1="363.70" x2="47.50" y2="363.70" stroke="#3a3a3a" stroke-width="1.1"/>
<text x="0" y="0" font-size="7.8" text-anchor="end" fill="#222" transform="translate(41.60 366.10) scale(1.0 1.08)" stroke="#222" stroke-width="0.05">1.5</text>
<line x1="95.80" y1="493.60" x2="95.80" y2="496.20" stroke="#111" stroke-width="1"/>
<line x1="193.40" y1="493.60" x2="193.40" y2="496.20" stroke="#111" stroke-width="1"/>
<line x1="47.50" y1="407.00" x2="237.40" y2="407.00" stroke="#6a97ba" stroke-width="1.3"/>
<line x1="47.50" y1="450.30" x2="237.00" y2="450.30" stroke="#d8304f" stroke-width="1.0"/>
<text x="241.60" y="409.50" font-size="7.2" text-anchor="start" fill="#222">1</text>
<text x="240.80" y="452.80" font-size="7.2" text-anchor="start" fill="#222">0.5</text>
<text x="0" y="0" font-size="9.6" text-anchor="middle" fill="#222" stroke="#222" stroke-width="0.15" transform="translate(24.1 428.9) rotate(-90) scale(0.63 1)">Copy number</text>
<rect x="93.20" y="385.50" width="6.00" height="6.00" fill="#13508a"/>
<rect x="93.20" y="403.70" width="6.00" height="6.00" fill="#13508a"/>
<rect x="85.50" y="407.10" width="6.00" height="6.00" fill="#13508a"/>
<rect x="100.90" y="408.20" width="6.00" height="6.00" fill="#13508a"/>
<rect x="93.20" y="413.40" width="6.00" height="6.00" fill="#13508a"/>
<path d="M190.70 409.40 L193.50 403.80 L196.30 409.40 Z" fill="#cc1038"/>
<path d="M190.70 421.30 L193.50 415.70 L196.30 421.30 Z" fill="#cc1038"/>
<path d="M198.40 421.30 L201.20 415.70 L204.00 421.30 Z" fill="#cc1038"/>
<path d="M190.70 439.30 L193.50 433.70 L196.30 439.30 Z" fill="#cc1038"/>
<path d="M182.80 453.20 L185.60 447.60 L188.40 453.20 Z" fill="#cc1038"/>
<path d="M190.70 453.60 L193.50 448.00 L196.30 453.60 Z" fill="#cc1038"/>
<path d="M198.40 453.20 L201.20 447.60 L204.00 453.20 Z" fill="#cc1038"/>
<path d="M206.20 450.30 L209.00 444.70 L211.80 450.30 Z" fill="#cc1038"/>
<path d="M190.60 483.60 L193.40 478.00 L196.20 483.60 Z" fill="#cc1038"/>
<path d="M182.90 496.40 L185.70 490.80 L188.50 496.40 Z" fill="#cc1038"/>
<path d="M190.60 496.60 L193.40 491.00 L196.20 496.60 Z" fill="#cc1038"/>
<path d="M198.40 496.40 L201.20 490.80 L204.00 496.40 Z" fill="#cc1038"/>
<text x="0" y="0" font-size="7.9" text-anchor="start" fill="#333" transform="translate(117.50 366.50) scale(1.0 1.08)" stroke="#333" stroke-width="0.08">p=0.0061</text>
<line x1="118.80" y1="368.95" x2="151.10" y2="368.95" stroke="#5f90bf" stroke-width="1.5"/>
<text x="134.80" y="377.20" font-size="6.5" text-anchor="middle" fill="#222" stroke="#222" stroke-width="0.3">*</text>
<text x="0" y="0" font-size="7.3" text-anchor="end" fill="#222" stroke="#222" stroke-width="0.1" transform="translate(97.1 502.0) rotate(-45)">Reactive VBA</text>
<text x="0" y="0" font-size="7.45" text-anchor="end" fill="#222" stroke="#222" stroke-width="0.1" transform="translate(196.8 502.3) rotate(-45)">VRL</text>
</svg></div></body></html>
